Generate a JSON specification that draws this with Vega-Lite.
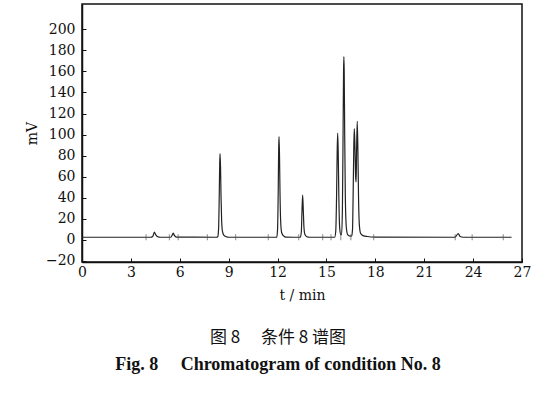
{
  "$schema": "https://vega.github.io/schema/vega-lite/v6.json",
  "autosize": {"type": "none"},
  "width": 440,
  "height": 258,
  "padding": {"left": 82, "top": 4, "right": 38, "bottom": 137},
  "background": "white",
  "config": {
    "view": {"stroke": "#111", "strokeWidth": 1.5},
    "axis": {
      "grid": false,
      "domainColor": "#111",
      "domainWidth": 1.5,
      "tickColor": "#111",
      "tickSize": -4,
      "labelFont": "DejaVu Serif",
      "labelFontSize": 14,
      "labelColor": "#111",
      "labelOverlap": false,
      "titleFont": "DejaVu Serif",
      "titleFontSize": 14,
      "titleFontWeight": "normal",
      "titleColor": "#111"
    },
    "axisY": {"labelOverlap": false}
  },
  "title": {
    "text": "图 8　 条件 8 谱图",
    "subtitle": "Fig. 8\u2003 Chromatogram of condition No. 8",
    "orient": "bottom",
    "anchor": "middle",
    "dx": -24,
    "offset": 28,
    "font": "Noto Sans CJK SC",
    "fontSize": 17,
    "fontWeight": "normal",
    "color": "#111",
    "subtitleFont": "Liberation Serif",
    "subtitleFontSize": 18,
    "subtitleFontWeight": "bold",
    "subtitleColor": "#111",
    "subtitlePadding": 9
  },
  "encoding": {
    "x": {"field": "t", "type": "quantitative", "scale": {"domain": [0, 27], "nice": false, "zero": false},
      "axis": {"values": [0, 3, 6, 9, 12, 15, 18, 21, 24, 27], "title": "t / min", "labelPadding": 7, "titlePadding": 9, "labelOverlap": false, "labelFlush": false, "labelBound": false}},
    "y": {"field": "mV", "type": "quantitative", "scale": {"domain": [-21, 224], "nice": false, "zero": false},
      "axis": {"values": [-20, 0, 20, 40, 60, 80, 100, 120, 140, 160, 180, 200], "title": "mV", "labelPadding": 11, "titlePadding": 6, "labelOverlap": false, "labelFlush": false, "labelBound": false}}
  },
  "layer": [
    {
      "data": {
        "values": [
          {"t": 0, "mV": 2.5}, {"t": 4.2, "mV": 2.5}, {"t": 4.35, "mV": 3.5}, {"t": 4.44, "mV": 7.5}, {"t": 4.52, "mV": 5}, {"t": 4.65, "mV": 3}, {"t": 4.8, "mV": 2.5},
          {"t": 5.45, "mV": 2.5}, {"t": 5.55, "mV": 5}, {"t": 5.6, "mV": 6.5}, {"t": 5.66, "mV": 4.5}, {"t": 5.8, "mV": 2.6},
          {"t": 8.25, "mV": 2.5}, {"t": 8.33, "mV": 3}, {"t": 8.38, "mV": 10}, {"t": 8.42, "mV": 40}, {"t": 8.45, "mV": 72}, {"t": 8.47, "mV": 82}, {"t": 8.5, "mV": 70}, {"t": 8.53, "mV": 42}, {"t": 8.57, "mV": 18}, {"t": 8.62, "mV": 8}, {"t": 8.7, "mV": 4.5}, {"t": 8.85, "mV": 3}, {"t": 9.0, "mV": 2.5},
          {"t": 11.95, "mV": 2.5}, {"t": 12.0, "mV": 10}, {"t": 12.04, "mV": 45}, {"t": 12.07, "mV": 88}, {"t": 12.09, "mV": 98}, {"t": 12.12, "mV": 80}, {"t": 12.15, "mV": 45}, {"t": 12.19, "mV": 18}, {"t": 12.25, "mV": 7}, {"t": 12.35, "mV": 4}, {"t": 12.5, "mV": 2.7},
          {"t": 13.4, "mV": 2.5}, {"t": 13.46, "mV": 8}, {"t": 13.5, "mV": 28}, {"t": 13.54, "mV": 42.5}, {"t": 13.58, "mV": 28}, {"t": 13.62, "mV": 12}, {"t": 13.68, "mV": 5}, {"t": 13.8, "mV": 3}, {"t": 13.95, "mV": 2.5},
          {"t": 15.5, "mV": 2.5}, {"t": 15.57, "mV": 8}, {"t": 15.62, "mV": 40}, {"t": 15.66, "mV": 85}, {"t": 15.69, "mV": 101.5}, {"t": 15.72, "mV": 85}, {"t": 15.76, "mV": 42}, {"t": 15.81, "mV": 12}, {"t": 15.87, "mV": 5},
          {"t": 15.93, "mV": 5}, {"t": 15.98, "mV": 30}, {"t": 16.02, "mV": 100}, {"t": 16.05, "mV": 160}, {"t": 16.07, "mV": 174}, {"t": 16.09, "mV": 160}, {"t": 16.12, "mV": 100}, {"t": 16.16, "mV": 40}, {"t": 16.22, "mV": 12}, {"t": 16.3, "mV": 5}, {"t": 16.45, "mV": 3.5}, {"t": 16.55, "mV": 4},
          {"t": 16.6, "mV": 10}, {"t": 16.64, "mV": 45}, {"t": 16.68, "mV": 90}, {"t": 16.71, "mV": 105.7}, {"t": 16.75, "mV": 88}, {"t": 16.79, "mV": 60}, {"t": 16.82, "mV": 55}, {"t": 16.85, "mV": 85}, {"t": 16.89, "mV": 112.6}, {"t": 16.93, "mV": 85}, {"t": 16.97, "mV": 40}, {"t": 17.02, "mV": 14}, {"t": 17.1, "mV": 6}, {"t": 17.25, "mV": 4}, {"t": 17.5, "mV": 3.2}, {"t": 18.0, "mV": 2.7},
          {"t": 22.85, "mV": 2.5}, {"t": 22.95, "mV": 3.5}, {"t": 23.09, "mV": 6}, {"t": 23.2, "mV": 3.2}, {"t": 23.4, "mV": 2.5}, {"t": 26.36, "mV": 2.5}
        ]
      },
      "mark": {"type": "line", "color": "#222", "strokeWidth": 1.2, "interpolate": "monotone"}
    },
    {
      "data": {
        "values": [
          {"t": 3.93, "mV": 2.5}, {"t": 5.36, "mV": 2.5}, {"t": 5.9, "mV": 2.5}, {"t": 7.69, "mV": 2.5}, {"t": 9.43, "mV": 2.5},
          {"t": 11.43, "mV": 2.5}, {"t": 13.3, "mV": 2.5}, {"t": 14.77, "mV": 2.5}, {"t": 15.28, "mV": 2.5}, {"t": 15.88, "mV": 2.5},
          {"t": 16.5, "mV": 2.5}, {"t": 17.9, "mV": 2.5}, {"t": 22.9, "mV": 2.5}, {"t": 23.94, "mV": 2.5}, {"t": 25.85, "mV": 2.5}
        ]
      },
      "mark": {"type": "tick", "orient": "vertical", "color": "#555", "size": 6, "thickness": 1}
    }
  ]
}
